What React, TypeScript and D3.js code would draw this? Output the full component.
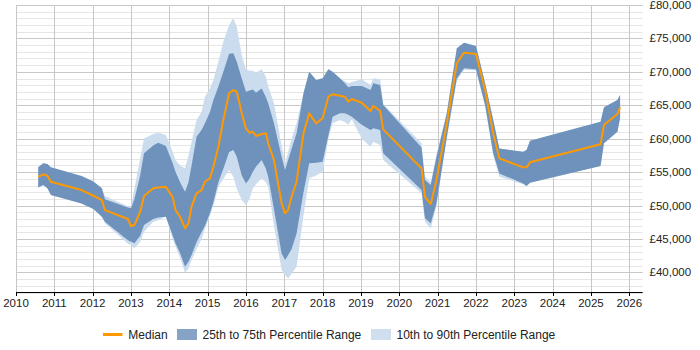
import * as d3 from "d3";

const dates = [
  2010.58, 2010.71, 2010.82, 2010.91, 2011.71, 2012.02, 2012.24, 2012.32, 2012.92, 2013.0,
  2013.09, 2013.24, 2013.34, 2013.58, 2013.71, 2013.91, 2014.09, 2014.16, 2014.28, 2014.41,
  2014.5, 2014.58, 2014.71, 2014.84, 2014.93, 2015.06, 2015.15, 2015.28, 2015.41, 2015.56,
  2015.67, 2015.76, 2015.89, 2016.0, 2016.09, 2016.18, 2016.26, 2016.41, 2016.52, 2016.58,
  2016.73, 2016.93, 2017.02, 2017.1, 2017.19, 2017.32, 2017.5, 2017.65, 2017.83, 2018.0,
  2018.15, 2018.26, 2018.45, 2018.58, 2018.67, 2018.76, 2019.02, 2019.25, 2019.32, 2019.5,
  2019.58, 2020.58, 2020.67, 2020.82, 2020.97, 2021.24, 2021.5, 2021.69, 2022.0, 2022.24,
  2022.45, 2022.61, 2023.23, 2023.32, 2023.41, 2025.25, 2025.34, 2025.69, 2025.76,
];

const median = [
  54300, 54670, 54460, 53570, 52320, 51470, 50830, 49330, 47990, 46940,
  47090, 49080, 51430, 52580, 52700, 52820, 51230, 49330, 48330, 46590,
  47340, 49830, 51830, 52320, 53570, 54070, 55810, 58800, 62800, 66790,
  67280, 67030, 63800, 61550, 60900, 61050, 60400, 60700, 60800, 59310,
  56810, 50330, 48840, 49330, 51320, 53570, 60800, 63800, 62300, 63050,
  66290, 66640, 66430, 66290, 65530, 65940, 65380, 64140, 64890, 64190,
  61400, 55570, 51320, 50230, 53820, 62300, 71280, 72870, 72670, 67280,
  60800, 57060, 55720, 55720, 56470, 59160, 62050, 63690, 64690,
];

const p75 = [
  55720, 56320, 56210, 55720, 54420, 53600, 52580, 50930, 49700, 49590,
  51000, 54500, 57810, 59000, 59400, 58900, 56300, 55070, 53500, 52070,
  53500, 56000, 60300, 61300, 62300, 64000, 65790, 67800, 70000, 72700,
  72770, 71500, 69000, 67030, 67200, 67380, 66880, 67530, 66200, 65290,
  62300, 57310, 55320, 56810, 58500, 60800, 66790, 70020, 68780, 69030,
  70380, 70000, 69030, 68280, 67680, 67880, 67880, 67280, 68280, 68030,
  65040, 58700, 53820, 53070, 57310, 63800, 73520, 74370, 73870, 68280,
  62800, 58550, 58050, 58300, 59700, 62550, 64690, 65790, 66540,
];

const p25 = [
  52720, 53070, 52600, 51580, 50330, 49500, 48330, 47580, 44800, 44590,
  44350, 45500, 47090, 48000, 48200, 48330, 45500, 44350, 42900, 40850,
  41600, 42600, 44500, 46000, 47000, 48840, 50500, 53500, 55500, 58000,
  58300, 57310, 54500, 53320, 54000, 55070, 55800, 56810, 55500, 54310,
  49500, 42850, 41850, 42600, 43500, 45840, 52000, 56320, 56400, 56560,
  60500, 63290, 63800, 63800, 63600, 63290, 62100, 61300, 61550, 61300,
  57810, 52320, 48090, 47340, 50330, 60300, 69000, 70530, 70380, 65000,
  57810, 54810, 53320, 52920, 53420, 55920, 59310, 61050, 63050,
];

const p90 = [
  55720, 56320, 56210, 55720, 54420, 53600, 52580, 51430, 49900, 49830,
  52500, 57000, 60050, 60700, 60900, 60550, 58000, 56810, 56000, 55570,
  57500, 59500, 62800, 64000, 66290, 67500, 68780, 71500, 74500, 77010,
  78000, 76760, 72500, 70280, 70200, 70180, 69880, 70380, 69280, 67800,
  65290, 59000, 56320, 58050, 60000, 62300, 66790, 70020, 68780, 69030,
  70380, 70000, 69030, 68600, 68280, 68500, 68880, 68030, 69030, 68880,
  65190, 59310, 54310, 53500, 57600, 64000, 73520, 74370, 73870, 68280,
  62800, 58550, 58050, 58300, 59700, 62550, 64690, 65790, 66540,
];

const p10 = [
  52720, 53070, 52600, 51580, 50330, 49500, 48330, 47340, 44300, 44100,
  43600, 44600, 46090, 47600, 47800, 48330, 45000, 43900, 42200, 39950,
  40600, 41850, 43500, 45000, 46500, 48500, 50000, 52820, 54000, 55320,
  54310, 52500, 50830, 50080, 51000, 52580, 53200, 54070, 53500, 52820,
  47000, 40350, 39600, 39100, 39800, 40850, 48500, 54070, 54500, 55070,
  60000, 62300, 62800, 62500, 62100, 62900, 60000, 58800, 59550, 59060,
  56810, 51830, 47580, 46590, 50000, 60000, 68700, 70300, 70200, 64800,
  57500, 54310, 53200, 52920, 53420, 55920, 59310, 61050, 63050,
];

const yearTicks = d3.range(2010, 2027);
const salaryTicks = [40000, 45000, 50000, 55000, 60000, 65000, 70000, 75000, 80000];
const minorTicks = d3.range(37000, 80001, 1000);

const legendItems = [
  { label: "Median", kind: "line", color: "#ff9900" },
  { label: "25th to 75th Percentile Range", kind: "box", color: "#85a3c5" },
  { label: "10th to 90th Percentile Range", kind: "box", color: "#cfdfef" },
];

const font = "'Liberation Sans', Arial, sans-serif";

export default function App() {
  const width = 700;
  const height = 350;
  const left = 16;
  const right = 642.7;
  const top = 5;
  const bottom = 292.5;

  const x = d3.scaleLinear().domain([2010, 2026.35]).range([left, right]);
  const y = d3.scaleLinear().domain([37000, 80000]).range([bottom, top]);

  const idx = dates.map((_, i) => i);

  const outerArea = d3
    .area<number>()
    .x((i) => x(dates[i]))
    .y0((i) => y(p10[i]))
    .y1((i) => y(p90[i]));

  const innerArea = d3
    .area<number>()
    .x((i) => x(dates[i]))
    .y0((i) => y(p25[i]))
    .y1((i) => y(p75[i]));

  const line = d3
    .line<number>()
    .x((i) => x(dates[i]))
    .y((i) => y(median[i]));

  const fmt = (v: number) => "£" + d3.format(",")(v);

  const legendX = [103, 177, 371];

  return (
    <svg
      width={width}
      height={height}
      style={{ position: "absolute", left: 0, top: 0, background: "#fff" }}
      fontFamily={font}
    >
      {/* minor grid */}
      {minorTicks.map((t) => (
        <line
          key={"m" + t}
          x1={left}
          x2={right}
          y1={Math.round(y(t)) + 0.5}
          y2={Math.round(y(t)) + 0.5}
          stroke={t % 5000 === 0 ? "#c8c8c8" : "#e6e6e6"}
          strokeWidth={1}
        />
      ))}
      {yearTicks.map((t) => (
        <line
          key={"v" + t}
          x1={Math.round(x(t)) + 0.5}
          x2={Math.round(x(t)) + 0.5}
          y1={top}
          y2={bottom}
          stroke="#c8c8c8"
          strokeWidth={1}
        />
      ))}

      <path d={outerArea(idx) || undefined} fill="#cadcee" />
      <path d={innerArea(idx) || undefined} fill="#6e92bb" />
      <path
        d={line(idx) || undefined}
        fill="none"
        stroke="#ff9900"
        strokeWidth={2}
        strokeLinejoin="round"
      />

      {/* x axis */}
      <line x1={left} x2={right} y1={292.5} y2={292.5} stroke="#000" strokeWidth={1} />
      {yearTicks.map((t) => (
        <g key={"xt" + t}>
          <line
            x1={Math.round(x(t)) + 0.5}
            x2={Math.round(x(t)) + 0.5}
            y1={292.5}
            y2={296}
            stroke="#000"
          />
          <text x={x(t)} y={306.7} textAnchor="middle" fontSize={11.5} fill="#222">
            {t}
          </text>
        </g>
      ))}

      {/* y labels */}
      {salaryTicks.map((t) => (
        <text key={"yt" + t} x={649.5} y={y(t) + 4} fontSize={11.5} fill="#222">
          {fmt(t)}
        </text>
      ))}

      {/* legend */}
      {legendItems.map((item, i) => (
        <g key={item.label} transform={`translate(${legendX[i]},334.5)`}>
          {item.kind === "line" ? (
            <line x1={0} x2={19.5} y1={0} y2={0} stroke={item.color} strokeWidth={3} />
          ) : (
            <rect x={0} y={-5.5} width={20} height={11} fill={item.color} />
          )}
          <text x={item.kind === "line" ? 25.3 : 25.5} y={4.2} fontSize={12} fill="#222">
            {item.label}
          </text>
        </g>
      ))}
    </svg>
  );
}
